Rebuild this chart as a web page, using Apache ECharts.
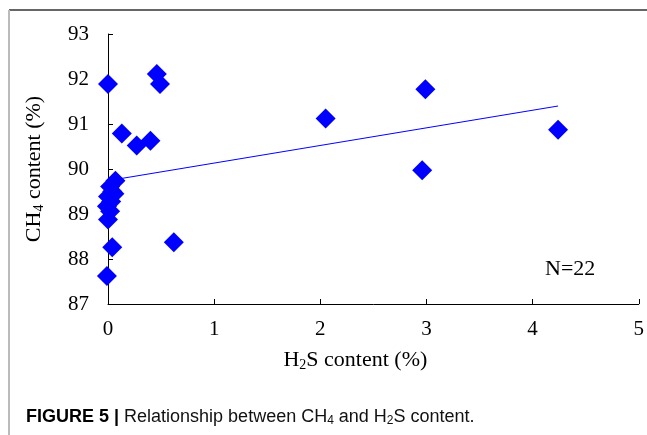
<!DOCTYPE html>
<html><head><meta charset="utf-8">
<script src="https://cdn.jsdelivr.net/npm/echarts@6/dist/echarts.min.js"></script>
<style>html,body{margin:0;padding:0;background:#fff}#c{width:647px;height:435px}</style>
</head><body><div id="c"></div>
<script>
const h2s = [0, 0.46, 0.49, 0.13, 0.27, 0.40, 2.05, 2.99, 2.96, 4.24, 0.62, 0.04, -0.01,
             0.07, 0.02, 0.06, 0.04, 0.00, 0.03, -0.01, 0.02, 0.00];
const ch4 = [91.89, 92.11, 91.89, 90.79, 90.52, 90.63, 91.12, 91.77, 89.97, 90.87, 88.37, 88.26, 87.62,
             89.74, 89.61, 89.45, 89.50, 89.39, 89.28, 89.17, 89.06, 88.88];
const trendX = [0, 4.24];
const trendY = [89.74, 91.40];
const xTicks = [0, 1, 2, 3, 4, 5];
const yTicks = [87, 88, 89, 90, 91, 92, 93];

const chart = echarts.init(document.getElementById('c'));
const serif = 'Liberation Serif';
chart.setOption({
  animation: false,
  grid: {left: 108, right: 4, top: 34, bottom: 131},
  xAxis: {
    type: 'value', min: xTicks[0], max: xTicks[xTicks.length-1], interval: 1,
    axisLine: {show: true, onZero: false, lineStyle: {color: '#000', width: 1}},
    axisTick: {show: true, inside: true, length: 5, lineStyle: {color: '#000'}},
    splitLine: {show: false},
    axisLabel: {fontFamily: serif, fontSize: 21, color: '#000', margin: 15},
    name: '{n|H}{s|2}{n|S content (%)}', nameLocation: 'middle', nameGap: 45,
    nameTextStyle: {padding: [0, 36, 0, 0], rich: {
      n: {fontFamily: serif, fontSize: 22, color: '#000'},
      s: {fontFamily: serif, fontSize: 14, color: '#000', verticalAlign: 'bottom', padding: [9,0,0,0]}
    }}
  },
  yAxis: {
    type: 'value', min: yTicks[0], max: yTicks[yTicks.length-1], interval: 1,
    axisLine: {show: true, lineStyle: {color: '#000', width: 1}},
    axisTick: {show: true, inside: true, length: 5, lineStyle: {color: '#000'}},
    splitLine: {show: false},
    axisLabel: {fontFamily: serif, fontSize: 21, color: '#000', margin: 19},
    name: '{n|CH}{s|4}{n| content (%)}', nameLocation: 'middle', nameGap: 62, nameRotate: 90,
    nameTextStyle: {rich: {
      n: {fontFamily: serif, fontSize: 22, color: '#000'},
      s: {fontFamily: serif, fontSize: 14, color: '#000', verticalAlign: 'bottom', padding: [9,0,0,0]}
    }}
  },
  series: [
    {type: 'line', data: trendX.map((x,i)=>[x, trendY[i]]), symbol: 'none',
     lineStyle: {color: '#0000ff', width: 1}, z: 1},
    {type: 'scatter', data: h2s.map((x,i)=>[x, ch4[i]]), symbol: 'diamond', symbolSize: 20,
     clip: false, itemStyle: {color: '#0000ff', opacity: 1}, z: 2}
  ],
  graphic: [
    {type: 'line', shape: {x1: 9, y1: 10, x2: 647, y2: 10}, style: {stroke: '#666', lineWidth: 2}},
    {type: 'line', shape: {x1: 9, y1: 10, x2: 9, y2: 435}, style: {stroke: '#bbb', lineWidth: 2}},
    {type: 'text', left: 545, top: 258, style: {text: 'N=22', font: '22px "Liberation Serif"', fill: '#000'}},
    {type: 'text', left: 26, top: 408, style: {
      text: '{b|FIGURE 5 | }{r|Relationship between CH}{s|4}{r| and H}{s|2}{r|S content.}',
      rich: {
        b: {fontFamily: 'Liberation Sans', fontWeight: 'bold', fontSize: 18, fill: '#000'},
        r: {fontFamily: 'Liberation Sans', fontSize: 18, fill: '#111'},
        s: {fontFamily: 'Liberation Sans', fontSize: 12, fill: '#111', verticalAlign: 'bottom', padding: [8,0,0,0]}
      }}}
  ]
});
</script></body></html>
